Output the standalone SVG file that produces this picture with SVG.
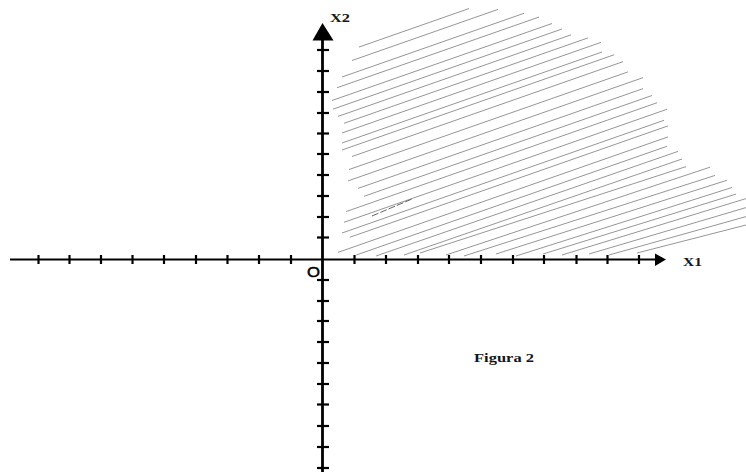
<svg xmlns="http://www.w3.org/2000/svg" width="746" height="472" viewBox="0 0 746 472">
<style>
.hatch line{stroke:#8a8a8a;stroke-width:0.9;fill:none}
.axis{stroke:#000;fill:none}
.tick{stroke:#000;stroke-width:2.2}
.lbl{font-family:"Liberation Serif","Times New Roman",serif;font-weight:bold;fill:#151520}
.o{font-family:"Liberation Sans",Arial,sans-serif;fill:#000;stroke:#000;stroke-width:0.5}
</style>
<rect width="746" height="472" fill="#fff"/>
<g id="hatching" class="hatch">
<line x1="359" y1="47.05" x2="469" y2="8.55"/>
<line x1="352" y1="60.5" x2="498" y2="9.4"/>
<line x1="342" y1="77" x2="524" y2="13.3"/>
<line x1="337" y1="87.75" x2="539" y2="17.05"/>
<line x1="332" y1="100.5" x2="552" y2="23.5"/>
<line x1="333" y1="109.15" x2="562" y2="29"/>
<line x1="338" y1="116.4" x2="571" y2="34.85"/>
<line x1="344" y1="123.3" x2="588" y2="37.9"/>
<line x1="342" y1="133" x2="601" y2="42.35"/>
<line x1="342" y1="143" x2="602" y2="52"/>
<line x1="342" y1="150" x2="614" y2="54.8"/>
<line x1="352" y1="156.5" x2="623" y2="61.65"/>
<line x1="349" y1="169.55" x2="628" y2="71.9"/>
<line x1="348" y1="180.9" x2="643" y2="77.65"/>
<line x1="358" y1="188.4" x2="643" y2="88.65"/>
<line x1="364" y1="196.3" x2="652" y2="95.5"/>
<line x1="346" y1="211.6" x2="657" y2="102.75"/>
<line x1="344" y1="222.3" x2="667" y2="109.25"/>
<line x1="342" y1="233" x2="664" y2="120.3"/>
<line x1="350" y1="237.2" x2="668" y2="125.9"/>
<line x1="338" y1="252.4" x2="668" y2="136.9"/>
<line x1="356.3" y1="255" x2="667" y2="146.25"/>
<line x1="376" y1="256" x2="678" y2="151.4"/>
<line x1="404" y1="255" x2="682" y2="159"/>
<line x1="420" y1="253" x2="686" y2="166.6"/>
<line x1="446" y1="255" x2="710" y2="167.2"/>
<line x1="464" y1="256" x2="715" y2="175.45"/>
<line x1="496" y1="254" x2="727" y2="180.25"/>
<line x1="516" y1="256" x2="732" y2="187.5"/>
<line x1="543" y1="254" x2="736" y2="194.1"/>
<line x1="562" y1="255" x2="746" y2="198.6"/>
<line x1="589" y1="254" x2="746" y2="207.6"/>
<line x1="609" y1="255" x2="746" y2="216.6"/>
<line x1="637" y1="253" x2="746" y2="225"/>
<line x1="372" y1="216" x2="412" y2="199" style="stroke:#555;stroke-dasharray:7 2"/>
</g>
<g id="x-axis">
<line class="axis" x1="10" y1="259.5" x2="657" y2="259.5" stroke-width="2.2"/>
<polygon points="666,259.5 655,253.5 655,266" fill="#000"/>
<g class="tick">
<line x1="38.5" y1="255" x2="38.5" y2="264"/>
<line x1="69.5" y1="255" x2="69.5" y2="264"/>
<line x1="101" y1="255" x2="101" y2="264"/>
<line x1="132.5" y1="255" x2="132.5" y2="264"/>
<line x1="164" y1="255" x2="164" y2="264"/>
<line x1="196" y1="255" x2="196" y2="264"/>
<line x1="227.5" y1="255" x2="227.5" y2="264"/>
<line x1="259" y1="255" x2="259" y2="264"/>
<line x1="291" y1="255" x2="291" y2="264"/>
<line x1="354.5" y1="255" x2="354.5" y2="264"/>
<line x1="386" y1="255" x2="386" y2="264"/>
<line x1="418" y1="255" x2="418" y2="264"/>
<line x1="449" y1="255" x2="449" y2="264"/>
<line x1="481" y1="255" x2="481" y2="264"/>
<line x1="513" y1="255" x2="513" y2="264"/>
<line x1="544" y1="255" x2="544" y2="264"/>
<line x1="576.5" y1="255" x2="576.5" y2="264"/>
<line x1="607.5" y1="255" x2="607.5" y2="264"/>
<line x1="639" y1="255" x2="639" y2="264"/>
</g>
<text class="lbl" x="683" y="266" font-size="12" textLength="19" lengthAdjust="spacingAndGlyphs">X1</text>
</g>
<g id="y-axis">
<line class="axis" x1="322.5" y1="38" x2="322.5" y2="472" stroke-width="2.8"/>
<polygon points="322.5,23 312.5,40.5 333.5,40.5" fill="#000"/>
<g class="tick">
<line x1="317" y1="50" x2="329" y2="50"/>
<line x1="317" y1="71" x2="329" y2="71"/>
<line x1="317" y1="92" x2="329" y2="92"/>
<line x1="317" y1="113" x2="329" y2="113"/>
<line x1="317" y1="133.5" x2="329" y2="133.5"/>
<line x1="317" y1="154" x2="329" y2="154"/>
<line x1="317" y1="175" x2="329" y2="175"/>
<line x1="317" y1="196" x2="329" y2="196"/>
<line x1="317" y1="217" x2="329" y2="217"/>
<line x1="317" y1="237.5" x2="329" y2="237.5"/>
<line x1="317" y1="280" x2="329" y2="280"/>
<line x1="317" y1="301" x2="329" y2="301"/>
<line x1="317" y1="321" x2="329" y2="321"/>
<line x1="317" y1="342" x2="329" y2="342"/>
<line x1="317" y1="363" x2="329" y2="363"/>
<line x1="317" y1="384" x2="329" y2="384"/>
<line x1="317" y1="404.5" x2="329" y2="404.5"/>
<line x1="317" y1="426" x2="329" y2="426"/>
<line x1="317" y1="447" x2="329" y2="447"/>
<line x1="317" y1="468" x2="329" y2="468"/>
</g>
<text class="lbl" x="330" y="22" font-size="12" textLength="20" lengthAdjust="spacingAndGlyphs">X2</text>
</g>
<g id="origin">
<text class="o" x="307" y="276.5" font-size="15.5" textLength="13" lengthAdjust="spacingAndGlyphs">O</text>
</g>
<g id="caption">
<text class="lbl" x="474" y="361.5" font-size="12.5" textLength="60" lengthAdjust="spacingAndGlyphs">Figura 2</text>
</g>
</svg>
